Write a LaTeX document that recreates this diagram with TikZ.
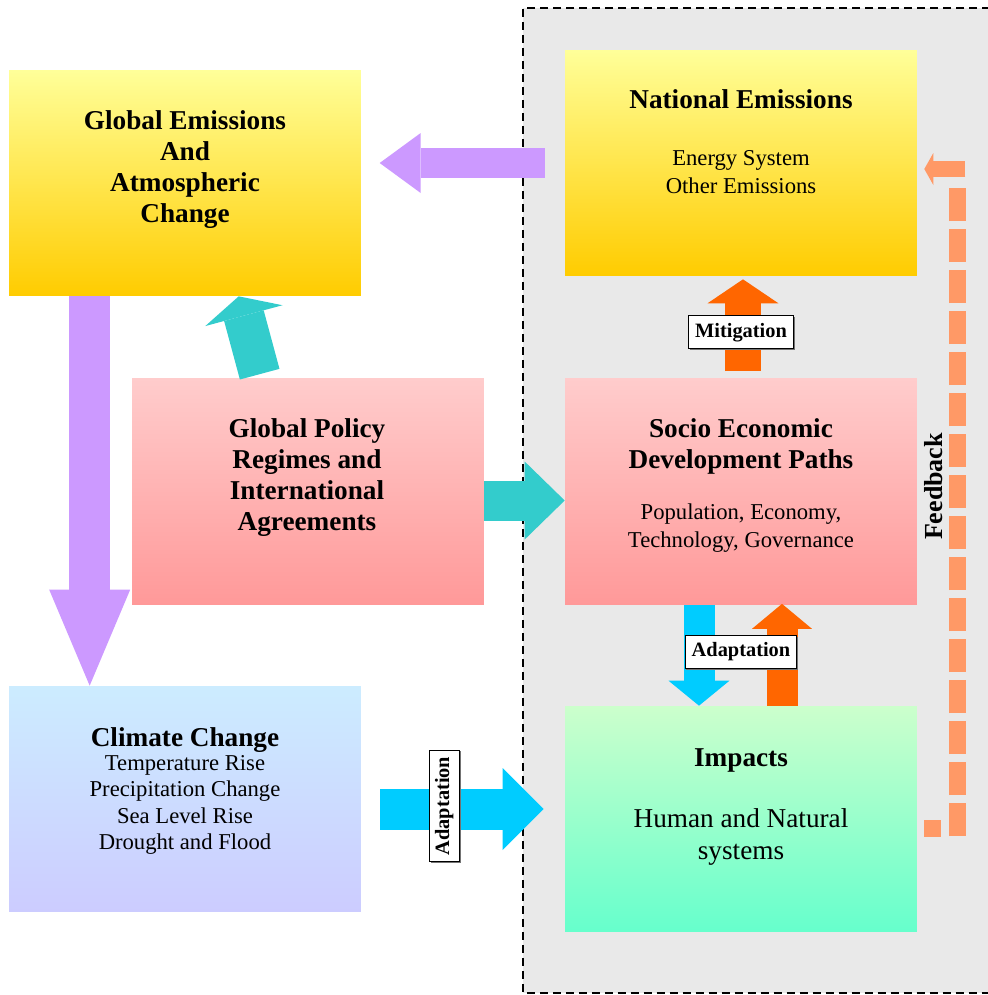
\documentclass[tikz,border=0pt]{standalone}
\usepackage{fontspec}
\setmainfont{Liberation Serif}
\usetikzlibrary{arrows.meta,calc,shadows}

\begin{document}
\begin{tikzpicture}[x=0.02cm,y=-0.02cm,
        box/.style={minimum width=7.04cm,minimum height=4.52cm,inner sep=0pt},
        title/.style={font=\fontsize{15.5}{17.8}\selectfont\bfseries,align=center,inner sep=0pt},
        sub/.style={font=\fontsize{12.9}{15.9}\selectfont,align=center,inner sep=0pt},
        tag/.style={draw=black,fill=white,font=\fontsize{11.6}{13}\selectfont\bfseries,
            inner xsep=0.13cm,inner ysep=0pt,minimum height=0.66cm,
            drop shadow={shadow xshift=0.7pt,shadow yshift=-0.7pt,fill=black!55,opacity=1}},
        block/.style n args={3}{line width=#1,-{Triangle[width=#2,length=#3,line width=0pt]}}]
        %colores
        \definecolor{gris}{HTML}{E9E9E9}
        \definecolor{amarillo1}{HTML}{FFFF99}
        \definecolor{amarillo2}{HTML}{FFCC00}
        \definecolor{rosa1}{HTML}{FFCCCC}
        \definecolor{rosa2}{HTML}{FF9999}
        \definecolor{celeste1}{HTML}{CCECFF}
        \definecolor{celeste2}{HTML}{CCCCFF}
        \definecolor{verde1}{HTML}{CCFFCC}
        \definecolor{verde2}{HTML}{66FFCC}
        \definecolor{lila}{HTML}{CC99FF}
        \definecolor{turquesa}{HTML}{33CCCC}
        \definecolor{naranja}{HTML}{FF6600}
        \definecolor{azul}{HTML}{00CCFF}
        \definecolor{salmon}{HTML}{FF9966}

        \useasboundingbox (0,0) rectangle (988,995);

        %zona nacional
        \fill[gris] (523,8) rectangle (990,993);
        \draw[line width=0.05cm,dash pattern=on 0.16cm off 0.1cm] (990,8) -- (523,8) -- (523,993) -- (990,993);

        %cajas
        \node[box,top color=amarillo1,bottom color=amarillo2] (ge) at (185,183) {};
        \node[box,top color=amarillo1,bottom color=amarillo2] (ne) at (741,163) {};
        \node[box,top color=rosa1,bottom color=rosa2] (gp) at (308,491.5) {};
        \node[box,top color=rosa1,bottom color=rosa2] (se) at (741,491.5) {};
        \node[box,top color=celeste1,bottom color=celeste2] (cc) at (185,799) {};
        \node[box,top color=verde1,bottom color=verde2] (im) at (741,819) {};

        %textos
        \node[title] (ge title) at (185,169.5) {Global Emissions\\And\\Atmospheric\\Change};
        \node[title] (ne title) at (741,99) {National Emissions};
        \node[sub] (ne sub) at (741,172) {Energy System\\Other Emissions};
        \node[title] (gp title) at (307,477.5) {Global Policy\\Regimes and\\International\\Agreements};
        \node[title] (se title) at (741,446.5) {Socio Economic\\Development Paths};
        \node[sub] (se sub) at (741,528) {Population, Economy,\\Technology, Governance};
        \node[title] (cc title) at (185,740) {Climate Change};
        \node[sub,font=\fontsize{12.9}{14.9}\selectfont] (cc sub) at (185,805) {Temperature Rise\\Precipitation Change\\Sea Level Rise\\Drought and Flood};
        \node[title] (im title) at (741,760) {Impacts};
        \node[sub,font=\fontsize{15.5}{18.1}\selectfont] (im sub) at (741,837) {Human and Natural\\systems};

        %flechas
        \draw[lila,block={0.6cm}{1.2cm}{0.82cm}] ($(ne.west)+(-20,0)$) -- ($(ne.west)+(-185,0)$);
        \draw[lila,block={0.82cm}{1.62cm}{1.92cm}] ($(ge.south west)+(81,0)$) -- ($(cc.north west)+(81,0)$);
        \draw[turquesa,block={0.82cm}{1.6cm}{0.4cm}] ($(gp.north west)+(128,-4)$) -- ($(ge.south west)+(230,0)$);
        \draw[turquesa,block={0.8cm}{1.56cm}{0.8cm}] ($(gp.east)+(0,9)$) -- ($(se.west)+(0,9)$);
        \draw[naranja,block={0.72cm}{1.42cm}{0.48cm}] ($(se.north)+(2,-7)$) -- ($(ne.south)+(2,3)$);
        \draw[azul,block={0.62cm}{1.22cm}{0.5cm}] ($(se.south)+(-42,0)$) -- ($(im.north)+(-42,0)$);
        \draw[naranja,block={0.62cm}{1.2cm}{0.5cm}] ($(im.north)+(41,0)$) -- ($(se.south)+(41,-1)$);
        \draw[azul,block={0.82cm}{1.64cm}{0.82cm}] ($(cc.east)+(19,10)$) -- ($(im.west)+(-21,-10)$);

        %retroalimentacion
        \draw[salmon,line width=0.34cm] ($(im.east)+(7,9.5)$) -- ++(17,0);
        \draw[salmon,line width=0.34cm,dash pattern=on 0.66cm off 0.16cm] ($(im.east)+(40.5,17)$) -- ($(ne.east)+(40.5,25)$);
        \draw[salmon,block={0.32cm}{0.64cm}{0.18cm}] ($(ne.east)+(48,6)$) -- ($(ne.east)+(7,6)$);

        %etiquetas
        \node[tag] (mit) at ($(se.north)+(0,-46)$) {Mitigation};
        \node[tag] (adap) at ($(se.south)+(0,47)$) {Adaptation};
        \node[tag,rotate=90,minimum height=0.6cm] (adap cc) at ($(cc.east)+(83,7)$) {Adaptation};
        \node[rotate=90,inner sep=0pt,font=\fontsize{14.8}{16}\selectfont\bfseries] (fb) at ($(se.east)+(16,-5)$) {Feedback};
    \end{tikzpicture}
\end{document}
